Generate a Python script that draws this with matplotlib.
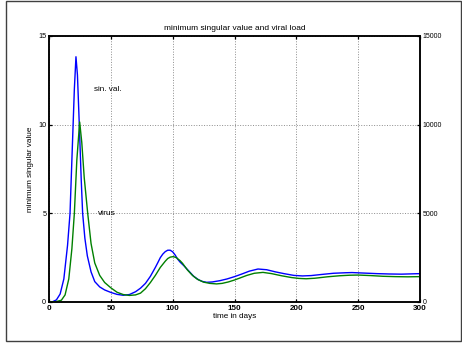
import matplotlib
matplotlib.use("Agg")
import matplotlib.pyplot as plt
from matplotlib.patches import Rectangle

plt.rcParams['font.family'] = ['Liberation Sans', 'DejaVu Sans']

# minimum singular value (left axis)
sv_days = [0, 3, 6, 9, 12, 15, 17, 19, 20.5, 21.8, 23, 24.5, 26, 27.2, 29, 31, 34, 37,
           41, 45, 50, 55, 60, 65, 70, 74, 78, 82, 86, 88, 90, 92, 94, 96, 98, 100, 102,
           104, 106, 109, 113, 117, 121, 124, 127.5, 132, 138, 144, 150, 156, 162, 169,
           176, 183, 190, 198, 205, 212, 220, 230, 240, 245, 255, 265, 275, 285, 300]
sv_vals = [0.0, 0.02, 0.12, 0.45, 1.3, 3.2, 5.0, 9.0, 12.0, 13.83, 12.8, 10.0, 7.0, 5.0,
           3.6, 2.6, 1.7, 1.15, 0.85, 0.68, 0.54, 0.43, 0.38, 0.42, 0.58, 0.78, 1.05,
           1.45, 1.95, 2.22, 2.5, 2.7, 2.84, 2.92, 2.92, 2.83, 2.65, 2.42, 2.25, 2.05,
           1.75, 1.45, 1.25, 1.16, 1.11, 1.13, 1.2, 1.3, 1.43, 1.58, 1.74, 1.86, 1.82,
           1.7, 1.6, 1.5, 1.47, 1.49, 1.55, 1.62, 1.65, 1.66, 1.63, 1.6, 1.58, 1.57, 1.6]

# viral load (right axis)
vl_days = [0, 5, 10, 13, 16, 18.5, 20.5, 22.5, 24.8, 26.5, 28.5, 31.3, 34, 37, 41, 45,
           50, 55, 60, 65, 70, 74, 78, 82, 86, 90, 94, 96, 98, 100.5, 103, 106, 108, 112,
           116, 120, 125, 130, 135.5, 140, 145, 150, 155, 160, 166, 173, 180, 188, 196,
           202, 208, 215, 225, 235, 243, 250, 260, 270, 280, 290, 300]
vl_vals = [0, 10, 100, 400, 1300, 3000, 5000, 8000, 10150, 9000, 7000, 5000, 3300, 2200,
           1500, 1100, 800, 550, 420, 370, 400, 500, 750, 1100, 1500, 1950, 2300, 2450,
           2530, 2560, 2500, 2330, 2180, 1800, 1500, 1280, 1120, 1050, 1020, 1050, 1130,
           1240, 1370, 1500, 1620, 1670, 1600, 1480, 1380, 1330, 1310, 1340, 1420, 1480,
           1510, 1520, 1490, 1450, 1430, 1420, 1430]

x_ticks = [0, 50, 100, 150, 200, 250, 300]
left_ticks = [0, 5, 10, 15]
right_ticks = [0, 5000, 10000, 15000]

fig = plt.figure(figsize=(4.62, 3.48), dpi=100)
fig.patch.set_facecolor('white')
fig.patches.append(Rectangle((6 / 462, 1 - 341 / 348), 455 / 462, 340 / 348,
                             transform=fig.transFigure, fill=False,
                             edgecolor='#404040', linewidth=1.0))

ax = fig.add_axes([49 / 462, 1 - 302 / 348, 371 / 462, 266 / 348])
ax.plot(sv_days, sv_vals, color='#0000ff', linewidth=1.0)
ax.set_xlim(0, 300)
ax.set_ylim(0, 15)
ax.set_xticks(x_ticks)
ax.set_yticks(left_ticks)
ax.grid(True, linestyle=':', color='0.55', linewidth=0.7)
ax.tick_params(direction='in', length=2.5, width=0.9, labelsize=5.2, pad=2,
               top=True)
for lbl in ax.get_xticklabels():
    lbl.set_fontweight('bold')
    lbl.set_fontsize(5.8)
for sp in ax.spines.values():
    sp.set_linewidth(1.1)
ax.set_xlabel('time in days', fontsize=5.9, labelpad=1)
ax.set_ylabel('minimum singular value', fontsize=5.9, labelpad=3)
ax.set_title('minimum singular value and viral load', fontsize=6, pad=4)
ax.text(36, 12, 'sin. val.', fontsize=5.9, va='center', ha='left')
ax.text(40, 5, 'virus', fontsize=6, va='center', ha='left')

ax2 = ax.twinx()
ax2.plot(vl_days, vl_vals, color='#008000', linewidth=1.0)
ax2.set_ylim(0, 15000)
ax2.set_yticks(right_ticks)
ax2.tick_params(direction='in', length=2.5, width=0.9, labelsize=5.0, pad=2)
for sp in ax2.spines.values():
    sp.set_linewidth(1.1)

fig.savefig('out.png', dpi=100)
